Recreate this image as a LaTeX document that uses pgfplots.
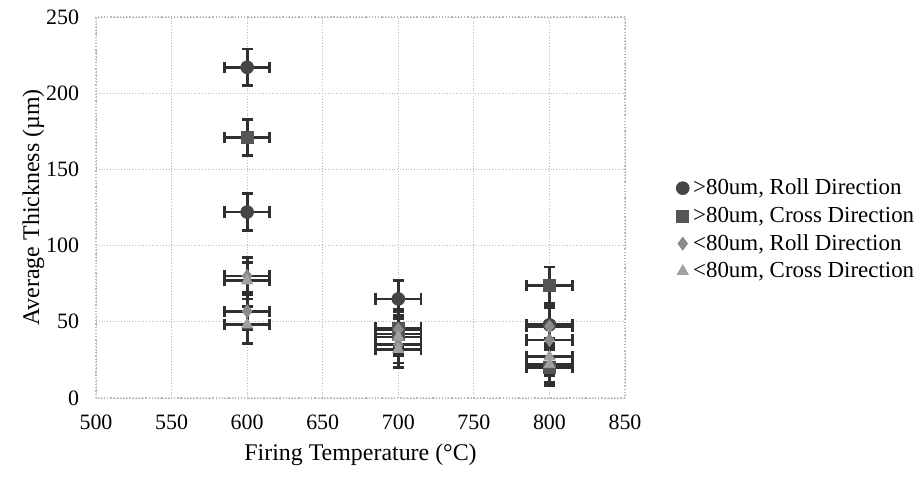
\documentclass[border=0pt]{standalone}
\usepackage{fontspec}
\setmainfont{Liberation Serif}
\usepackage{pgfplots}
\pgfplotsset{compat=1.18}
\definecolor{ebar}{HTML}{303030}
\definecolor{cA}{HTML}{454545}
\definecolor{cB}{HTML}{555555}
\definecolor{cC}{HTML}{8A8A8A}
\definecolor{cD}{HTML}{A0A0A0}
\begin{document}
\begin{tikzpicture}[x=1bp,y=1bp]
\begin{axis}[
  at={(0,0)}, anchor=south west,
  scale only axis, width=264.5bp, height=190.5bp,
  xmin=500, xmax=850, ymin=0, ymax=250,
  xtick={500,550,...,850}, ytick={0,50,...,250},
  /pgf/number format/assume math mode=true,
  ticklabel style={font=\fontsize{11}{13}\selectfont},
  xticklabel style={yshift=-5bp},
  yticklabel style={xshift=-5bp},
  major tick length=0pt,
  grid=major,
  grid style={gray!55, densely dotted, line width=0.5pt},
  axis line style={gray!55, densely dotted, line width=0.6pt},
  xlabel={Firing Temperature (°C)},
  ylabel={Average Thickness (µm)},
  label style={font=\fontsize{12}{14}\selectfont},
  xlabel style={yshift=0bp},
  ylabel style={yshift=-6bp},
  legend style={draw=none, fill=none, at={(1.085,0.442)}, anchor=west,
    font=\fontsize{11.5}{13}\selectfont, row sep=0.6bp,
    legend cell align=left},
  legend image code/.code={\draw[mark repeat=2,mark phase=2] plot coordinates {(0cm,0cm) (0.08cm,0cm) (0.16cm,0cm)};},
  error bars/x dir=both, error bars/x explicit,
  error bars/y dir=both, error bars/y explicit,
  error bars/error bar style={color=ebar, line width=1.4bp},
  error bars/error mark options={color=ebar, line width=1.4bp, mark size=2.8bp, rotate=90},
]
\addplot[only marks, mark=*, mark size=3.2bp, color=cA, mark options={fill=cA}]
  coordinates {(600,217) +- (15,12) (600,122) +- (15,12) (700,65) +- (15,12) (800,48) +- (15,12)};
\addlegendentry{>80um, Roll Direction}
\addplot[only marks, mark=square*, mark size=3bp, color=cB, mark options={fill=cB}]
  coordinates {(600,171) +- (15,12) (700,46) +- (15,12) (700,42) +- (15,12) (800,74) +- (15,12) (800,20) +- (15,12)};
\addlegendentry{>80um, Cross Direction}
\addplot[only marks, mark=diamond*, mark size=3.2bp, color=cC, mark options={fill=cC}]
  coordinates {(600,80) +- (15,12) (600,57) +- (15,12) (700,45) +- (15,12) (700,35) +- (15,12) (800,38) +- (15,12) (800,47) +- (15,12)};
\addlegendentry{<80um, Roll Direction}
\addplot[only marks, mark=triangle*, mark size=3.2bp, color=cD, mark options={fill=cD}]
  coordinates {(600,77) +- (15,12) (600,48) +- (15,12) (700,40) +- (15,12) (700,32) +- (15,12) (800,27) +- (15,12) (800,22) +- (15,12)};
\addlegendentry{<80um, Cross Direction}
\end{axis}
\pgfresetboundingbox
\useasboundingbox (-48,-39.5) rectangle (412,199);
\end{tikzpicture}
\end{document}
